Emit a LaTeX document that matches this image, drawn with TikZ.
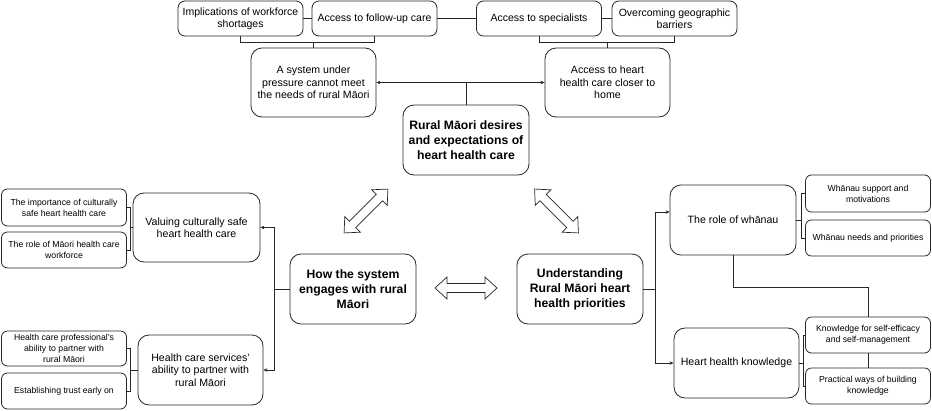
\documentclass[tikz,border=0pt]{standalone}
\usepackage{fontspec}
\setmainfont{Liberation Sans}
\usetikzlibrary{arrows.meta}
\newcommand{\hollowdarrow}[2]{%
  \draw[line width=0.7pt, draw=black!85, fill=white, shift={(#1)}, rotate=#2]
    (-31,0) -- (-19,11) -- (-19,4.5) -- (19,4.5) -- (19,11) -- (31,0)
    -- (19,-11) -- (19,-4.5) -- (-19,-4.5) -- (-19,-11) -- cycle;}
\begin{document}
\begin{tikzpicture}[x=1pt,y=-1pt,
  box/.style={draw=black!85, line width=0.8pt, fill=white, align=center, inner sep=1pt},
  sbox/.style={box, rounded corners=6pt, minimum width=125pt, font=\fontsize{8.7}{10.8}\selectfont},
  tbox/.style={box, rounded corners=7pt, minimum width=125pt, minimum height=35pt, font=\fontsize{10.5}{12.3}\selectfont},
  mbox/.style={box, rounded corners=11pt, minimum width=125pt, minimum height=69pt, font=\fontsize{10.6}{12.3}\selectfont},
  bbox/.style={box, rounded corners=11pt, minimum width=126pt, minimum height=70pt, font=\fontsize{12.2}{15}\selectfont\bfseries},
  conn/.style={line width=0.8pt, draw=black!85},
  tip/.style={conn, -{Stealth[length=4pt,width=3.5pt]}},
  tips/.style={conn, {Stealth[length=4pt,width=3.5pt]}-{Stealth[length=4pt,width=3.5pt]}}]
\useasboundingbox (0,0) rectangle (932,410);

% top row
\node[tbox] (imp) at (240.5,18.5) {Implications of workforce\\shortages};
\node[tbox] (fup) at (374.5,18.5) {Access to follow-up care};
\node[tbox] (spec) at (539,18.5) {Access to specialists};
\node[tbox] (geo) at (674.5,18.5) {Overcoming geographic\\barriers};
\node[mbox] (sys) at (313.5,82.5) {A system under\\pressure cannot meet\\the needs of rural Māori};
\node[mbox] (closer) at (607.5,82.5) {Access to heart\\health care closer to\\home};
\node[bbox] (central) at (466,140) {Rural Māori desires\\and expectations of\\heart health care};

% left
\node[sbox, minimum height=37pt] (imp2) at (64,207.5) {The importance of culturally\\safe heart health care};
\node[sbox, minimum height=36pt] (role) at (64,250) {The role of Māori health care\\workforce};
\node[mbox, minimum width=127pt] (valuing) at (196.5,227.5) {Valuing culturally safe\\heart health care};
\node[sbox, minimum height=35pt] (prof) at (64,348.5) {Health care professional's\\ability to partner with\\rural Māori};
\node[sbox, minimum height=36pt] (trust) at (64,391) {Establishing trust early on};
\node[mbox, minimum height=70pt] (hcs) at (200.5,370) {Health care services'\\ability to partner with\\rural Māori};
\node[bbox] (how) at (353,289) {How the system\\engages with rural\\Māori};

% right
\node[bbox] (und) at (580,289) {Understanding\\Rural Māori heart\\health priorities};
\node[mbox, minimum width=126pt, minimum height=70pt] (whanau) at (733,220) {The role of whānau};
\node[sbox, minimum height=37pt] (wsup) at (868,193.5) {Whānau support and\\motivations};
\node[sbox, minimum height=36pt] (wneed) at (868,238) {Whānau needs and priorities};
\node[mbox, minimum height=70pt] (hhk) at (736.5,363) {Heart health knowledge};
\node[sbox, minimum height=36pt] (kse) at (868,335) {Knowledge for self-efficacy\\and self-management};
\node[sbox, minimum height=36pt] (prac) at (868,386) {Practical ways of building\\knowledge};

% top connectors
\draw[conn] (imp.east) -- (fup.west);
\draw[conn] (fup.east) -- (spec.west);
\draw[conn] (spec.east) -- (geo.west);
\draw[conn] (imp.south) -- ++(0,6) -| (fup.south);
\draw[conn] (sys.north) -- ++(0,-6);
\draw[conn] (spec.south) -- ++(0,6) -| (geo.south);
\draw[conn] (closer.north) -- ++(0,-6);
\draw[tips] (sys.east) -- (closer.west);
\draw[conn] (central.north) -- (central.north |- sys.east);

% left connectors
\coordinate (lb1) at ([xshift=-2.5pt]valuing.west);
\draw[conn] (imp2.east) -| (lb1) |- (role.east);
\draw[conn] (lb1) -- (valuing.west);
\coordinate (lb2) at ([xshift=3.5pt]prof.east |- hcs.west);
\draw[conn] (prof.east) -| (lb2) |- (trust.east);
\draw[conn] (lb2) -- (hcs.west);
\coordinate (lv) at ([xshift=-15pt]how.west);
\draw[conn] (how.west) -- (lv);
\draw[tip] (lv) |- (valuing.east);
\draw[tip] (lv) |- (hcs.east);

% right connectors
\coordinate (rv) at ([xshift=12pt]und.east);
\draw[conn] (und.east) -- (rv);
\draw[tip] (rv) |- ([yshift=8pt]whanau.west);
\draw[tip] (rv) |- (hhk.west);
\coordinate (rb1) at ([xshift=5pt]whanau.east);
\draw[conn] (wsup.west) -| (rb1) |- (wneed.west);
\draw[conn] (whanau.east) -- (rb1);
\coordinate (rb2) at ([xshift=4pt]hhk.east);
\draw[conn] (kse.west) -| (rb2) |- (prac.west);
\draw[conn] (hhk.east) -- (rb2);
\draw[conn] (whanau.south) -- ++(0,32) -| (kse.north);
\draw[conn] (kse.south) -- (prac.north);

% hollow double arrows
\hollowdarrow{366,211}{45}
\hollowdarrow{556.5,211}{-45}
\hollowdarrow{466,288}{0}
\end{tikzpicture}
\end{document}
